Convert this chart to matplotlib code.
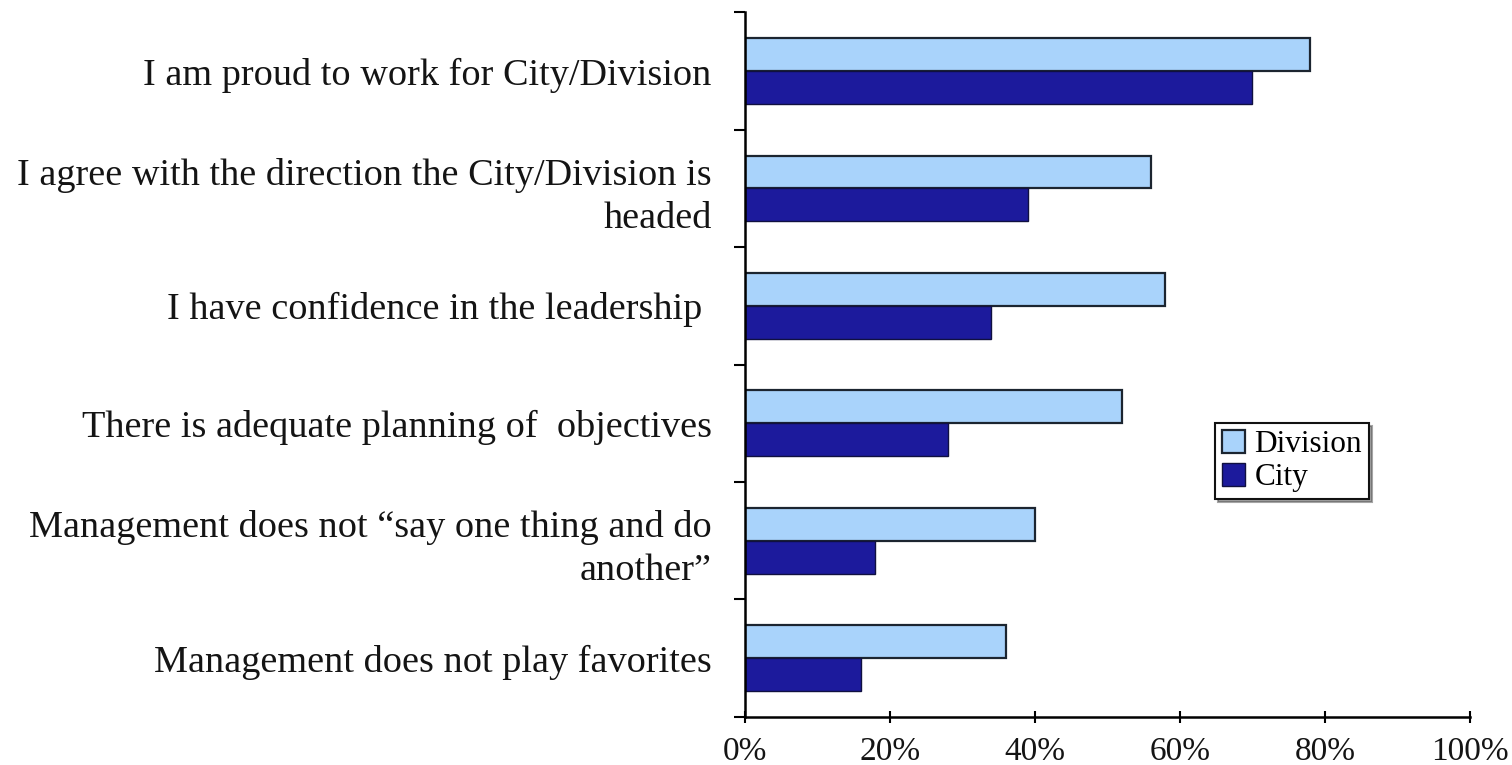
import matplotlib.pyplot as plt
import numpy as np

categories = [
    "I am proud to work for City/Division",
    "I agree with the direction the City/Division is\nheaded",
    "I have confidence in the leadership ",
    "There is adequate planning of  objectives",
    "Management does not \u201csay one thing and do\nanother\u201d",
    "Management does not play favorites",
]
division = [78, 56, 58, 52, 40, 36]
city = [70, 39, 34, 28, 18, 16]
xticks = [0, 20, 40, 60, 80, 100]

plt.rcParams['font.family'] = ['Liberation Serif', 'DejaVu Serif']

fig = plt.figure(figsize=(15.12, 7.65), dpi=100)
ax = fig.add_axes([0.4927, 0.063, 0.4795, 0.921])

y = np.arange(len(categories))
h = 0.28
ax.barh(y - h / 2, division, height=h, color='#a9d3fb', edgecolor='#1c2530',
        linewidth=1.6, label='Division')
ax.barh(y + h / 2, city, height=h, color='#1c1a9c', edgecolor='#101040',
        linewidth=1.0, label='City')

ax.set_ylim(len(categories) - 0.5, -0.5)
ax.set_xlim(0, 100)

# category boundaries as ticks, labels at centres
ax.set_yticks(np.arange(len(categories) + 1) - 0.5)
ax.set_yticklabels([])
ax.set_yticks(y, minor=True)
ax.set_yticklabels(categories, minor=True, fontsize=27.5, ha='right',
                   color='#141414', linespacing=1.32)
ax.tick_params(axis='y', which='minor', length=0, pad=24)
ax.tick_params(axis='y', which='major', length=8, width=1.5, direction='out')

ax.set_xticks(xticks)
ax.set_xticklabels([f"{v}%" for v in xticks], fontsize=24, color='#141414')
ax.tick_params(axis='x', length=8, width=1.5, direction='inout', pad=10)

for s in ['top', 'right']:
    ax.spines[s].set_visible(False)
ax.spines['left'].set_linewidth(1.8)
ax.spines['bottom'].set_linewidth(1.8)

leg = ax.legend(loc='upper left', bbox_to_anchor=(0.648, 0.417), fontsize=22.5,
                frameon=True, fancybox=False, shadow=True, handlelength=0.75,
                handleheight=0.75, handletextpad=0.3, borderpad=0.22,
                labelspacing=0.12, borderaxespad=0)
leg.get_frame().set_edgecolor('#111111')
leg.get_frame().set_linewidth(1.5)

plt.savefig('out.png', dpi=100)
